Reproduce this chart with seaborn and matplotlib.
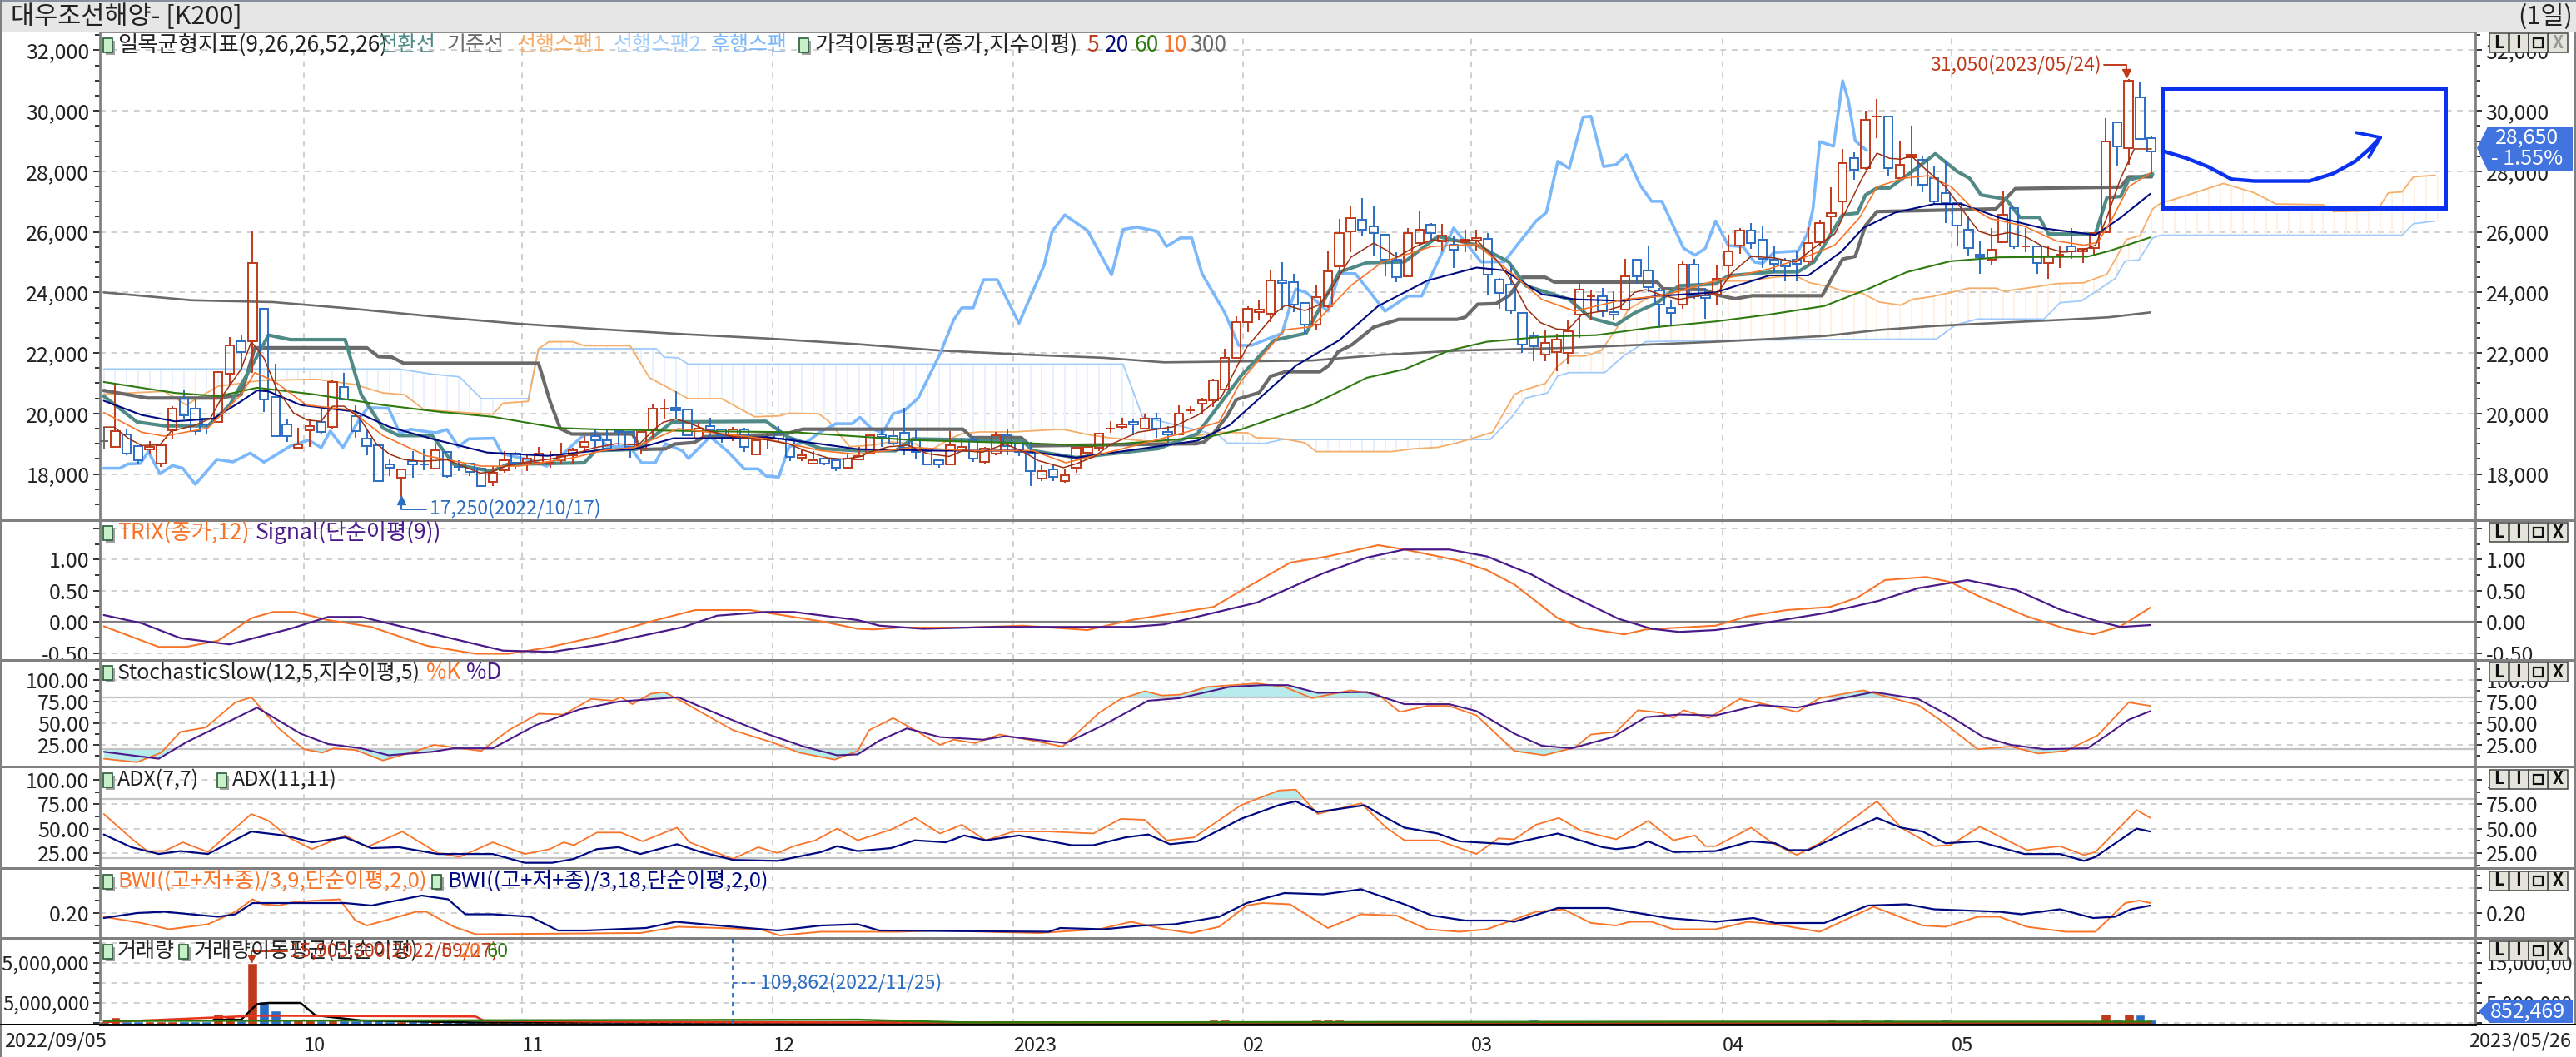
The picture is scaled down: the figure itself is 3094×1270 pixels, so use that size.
import numpy as np
import matplotlib
matplotlib.use('Agg')
import matplotlib.pyplot as plt
from matplotlib.patches import Rectangle, Polygon
from matplotlib.ticker import MultipleLocator, FuncFormatter
import seaborn as sns

sns.set_style('white')
plt.rcParams['font.family'] = ['Liberation Sans Narrow', 'Noto Sans CJK KR', 'DejaVu Sans']
plt.rcParams['axes.unicode_minus'] = False

W, H = 3094, 1270

# ---- candles (body top, body bottom, high, low, R/B)
body_top = [19080,19410,19300,18920,18890,18960,20170,20480,20170,19830,
            21370,22240,22400,24970,23450,20550,19630,18980,19570,19720,
            21050,20870,19900,19170,18960,18310,18150,18420,18310,18790,
            18740,18230,18350,18170,18050,18460,18670,18510,18670,18370,
            18580,18790,19070,19240,19110,19420,19400,19400,20170,20170,
            20190,20120,19500,19570,19480,19460,19480,19110,19160,19330,
            19160,18630,18460,18520,18460,18510,18580,19290,19310,19240,
            19350,19120,18750,18460,18950,18890,19120,18830,19290,19290,
            19000,18700,18110,18140,17960,18860,18890,19330,19490,19630,
            19710,19830,19830,19400,19990,20100,20430,21090,21840,23030,
            23470,23440,24390,24400,24330,23640,23850,24700,25970,26450,
            26400,26180,25900,25080,25970,26080,26240,25880,25590,25730,
            25790,25780,24410,24250,23320,22560,22330,22450,22720,24090,
            23860,23860,23340,24530,25070,24730,24070,23480,24910,24910,
            23900,24460,25350,26050,26050,25730,25070,25050,25070,25640,
            26300,26630,28280,28450,29700,29820,29820,28230,28550,28390,
            27770,27290,26940,26070,25250,25400,26560,26780,25520,25520,
            25180,25240,25510,25440,25950,28990,29610,30990,30440,29100]
body_bot = [19080,18900,18680,18460,18810,18350,19450,19940,19410,19630,
            19720,21310,22020,22400,20450,19240,19240,18860,19450,19390,
            19550,20450,19410,18920,17760,18210,17870,18320,18310,18170,
            17940,18230,18060,17610,17730,18120,18370,18350,18370,18370,
            18460,18610,18890,19110,18830,19380,18890,18830,19440,20170,
            20110,19270,19180,19440,19290,19290,18900,18660,19160,19160,
            18560,18550,18340,18340,18220,18220,18490,18680,19230,19000,
            18880,18720,18330,18330,18330,18790,18500,18400,18680,18920,
            18740,18110,17840,17910,17780,18210,18700,18880,19490,19550,
            19630,19490,19490,19300,19320,20100,20330,20440,20800,21830,
            23030,23360,23300,24320,23600,22930,22930,23530,24870,26010,
            26080,25970,25080,24500,24540,25630,25970,25700,25410,25650,
            25710,24580,23980,23410,22280,22220,21950,22040,21990,23270,
            23860,23380,23260,23430,24530,24180,23590,23320,23590,23860,
            23820,23930,24890,25550,25630,25100,24950,24870,24950,25040,
            25650,26520,27010,28060,28120,29820,28120,27770,28470,27560,
            27010,26960,26220,25470,25170,25080,25670,25520,25520,24960,
            24960,25240,25360,25360,25470,26000,28830,28760,29080,28660]
high = [19550,20960,19460,18920,19080,18960,20240,20780,20460,19830,
        21370,22530,22580,26030,23500,21650,19810,19540,19830,20240,
        21100,21330,20280,19460,18960,18480,18150,18750,18810,19010,
        18740,18460,18350,18170,18260,18770,18740,18670,18900,18750,
        19020,18860,19250,19460,19460,19440,19400,19400,20300,20470,
        20750,20120,19690,19850,19480,19550,19530,19110,19360,19570,
        19160,18810,18770,18520,18460,18650,18900,19290,19460,19460,
        20190,19460,18750,18460,19410,19200,19250,18900,19390,19460,
        19000,19070,18300,18300,18170,18900,18980,19360,19760,19850,
        19810,19960,20010,19580,20280,20230,20510,21160,22130,23210,
        23550,23760,24730,25000,24610,23640,24240,25380,26420,26850,
        27120,26850,25900,25340,26130,26690,26300,26260,25880,26080,
        26080,25960,24470,24890,23320,22680,22740,22630,23110,24370,
        24090,24160,24050,25100,25070,25520,24140,23730,25020,25100,
        24140,24930,25920,26120,26300,26190,25520,25140,25370,26160,
        26410,27470,28740,28620,30010,30390,29820,29010,29520,28510,
        28180,28320,26940,26530,25700,26140,27360,26780,26140,25520,
        25520,25520,26130,25470,25980,29750,29610,31050,30940,29180]
low = [18850,18900,18630,18350,18680,18240,19170,19830,19280,19330,
       19720,20920,21460,21330,20050,19240,19050,18860,18900,19330,
       19460,20450,19190,18630,17760,17920,17250,17870,18120,18170,
       17890,18100,17940,17610,17610,18050,18170,18100,18300,18210,
       18350,18320,18720,18860,18770,18950,18550,18640,19200,19820,
       19820,19270,19160,19180,19040,19090,18720,18660,18830,19090,
       18440,18440,18340,18280,18110,18220,18490,18680,18900,18950,
       18610,18500,18280,18210,18330,18720,18390,18330,18610,18610,
       18590,17610,17780,17780,17720,18050,18580,18770,19360,19470,
       19290,19490,19200,19020,19290,19990,19990,20210,20800,21820,
       22700,23080,23030,23400,23350,22630,22760,23490,24610,25340,
       25880,25230,24520,24330,24540,25520,25700,25350,24810,25320,
       25390,23910,23470,23290,21990,21720,21720,21400,21640,22490,
       23090,23180,23090,23410,24290,24000,22830,22900,23470,23800,
       23130,23590,24440,25280,25440,24820,24640,24380,24380,24930,
       25560,25930,26570,27720,28050,29090,27820,27770,27540,27310,
       26900,26280,25560,25210,24620,24900,25670,25450,25330,24620,
       24460,24810,25120,24960,25190,26000,28160,28210,29040,27910]
candle_kind = list(
    'GRBBRRRBBB' 'RRBRBBBRRB' 'RBBBBBRBBR' 'BBBBRRBRRR' 'RRRBBBBRRR'
    'BBRBBRBRRB' 'BRRBBRRRBB' 'BBBBRRBRRB' 'BBRBRRRRRR' 'BRBBRRRRRR'
    'RRRBBBRRRR' 'BBBBRRBRBR' 'RBBBBBRRRR' 'RBBRBBBBRB' 'BRRRBBBBBR'
    'RRRBRRBRRB' 'BBBBBRRBRB' 'RRBRRRBRBB')

# volume, in millions
volume = [.5,1.4,.4,.4,.4,.4,.4,.4,.4,.4, 2.3,1.9,.6,15.0,5.5,3.1,1.0,.8,.8,.7,
          .8,.7,.7,.6,.6,.5,.5,.4,.4,.4, .4,.4,.4,.3,.3,.3,.3,.3,.3,.3,
          .3,.3,.3,.3,.3,.3,.3,.3,.4,.4, .4,.4,.3,.3,.3,.3,.3,.3,.3,.3,
          .3,.3,.3,.3,.3,.3,.3,.3,.3,.3, .9,.3,.3,.3,.3,.3,.3,.3,.3,.3,
          .3,.3,.3,.3,.3,.3,.3,.3,.3,.3, .3,.3,.3,.5,.3,.3,.7,.8,.9,.5,
          .4,.4,.4,.4,.4,.5,.9,.9,.9,.5, .4,.4,.4,.4,.4,.4,.4,.4,.4,.4,
          .3,.3,.3,.4,.5,.9,.4,.3,.3,.4, .3,.3,.3,.3,.3,.3,.3,.3,.3,.3,
          .3,.3,.3,.3,.3,.3,.3,.3,.3,.3, .4,.9,.4,.4,.9,.5,.9,.4,.4,.4,
          .4,.9,.4,.3,.3,.3,.3,.3,.3,.3, .3,.3,.3,.3,.4,2.3,.9,2.3,2.0,.85]

# ---- overlays on the price panel, read as (bar, value)
ma300_x = [0,7.7,14.8,21.5,29.2,36.4,43.6,50.7,57.9,65.9,73.1,80.3,87.4,92.7,105.6,111.8,118.5,128.1,140.9,145.6,150.4,155.2,160,164.8,171.5,175.3,178.9]
ma300_y = [24000,23740,23680,23470,23190,22960,22780,22620,22480,22290,22080,21950,21840,21690,21750,21940,22080,22170,22370,22460,22560,22760,22890,22980,23100,23180,23340]
ma60_x = [0,6.2,10,13.4,18.2,24.4,29.2,34,39.7,43.5,53.1,60.3,65.9,70.7,81.2,86.5,96.5,99.4,105.6,110.4,113.7,117.6,120.9,125.7,130.5,135.3,140.9,145.6,150.4,154.2,157.6,161.4,165.7,173.4,175.3,178.9]
ma60_y = [21040,20680,20570,20850,20640,20280,20060,19890,19520,19470,19410,19380,19240,19120,19010,18930,19220,19470,20280,21180,21460,22080,22370,22530,22590,22840,23040,23270,23550,24110,24670,25030,25160,25180,25370,25820]
ma20_x = [0,3.3,6.2,9.6,12,13.4,14.4,17.2,22,25,28.7,33.5,38.8,43,46.4,49.8,53.1,57.9,62.7,65.9,73.1,80.3,85,90.8,95.6,98.4,104.2,108,111.4,115.7,120,122.4,125.7,128.6,132.9,135.8,140.9,145.6,149,151.9,153.8,156.6,160,162.4,165.7,169.5,174.1,176.3,178.9]
ma20_y = [20420,19950,19740,19830,20400,20760,20730,20280,20060,19550,19160,18710,18600,18770,18820,19180,19180,19220,18990,18820,18770,18770,18540,18840,19100,19610,21580,22420,23550,24390,24820,24730,23940,23770,23720,23880,24000,24560,24560,25350,26130,26640,26920,26920,26470,26120,25900,26470,27260]
ma10_x = [0,3.3,5.3,9.1,12,13.2,14.9,17.7,21.5,24.4,28.2,33,36.3,41.1,43.5,46.4,50.2,57.9,62.7,65.9,70.7,75.5,81.2,84.1,88.9,94.6,97.5,99.4,103.2,105.6,109,111.8,116.1,120,123.3,125.7,128.6,132.9,136.2,140.9,145.6,148.9,151.3,153.5,155,157.3,159.5,161.5,163.4,164.9,167.8,170.7,173.1,174.3,175.5,177,178.9]
ma10_y = [20030,19380,19250,19520,20620,21350,21070,20280,20120,19270,18600,18260,18260,18540,18770,18880,19500,19160,18770,18650,18880,18770,18770,18370,18820,19380,19720,21070,22760,22870,24220,25010,25520,25590,24560,23770,23380,23770,23880,24390,24780,25190,25560,26480,27490,27770,27860,27490,26760,26440,26200,25700,25560,25650,26390,27490,27950]
ma5_x = [0,.9,2.1,3.3,4.9,5.9,7.9,9.3,10.5,12,12.9,14,15.1,16.6,17.8,19,20,21,22.4,23.8,25,26.2,27.8,30,32.9,33.9,35.1,37,39,40.9,42.8,44.8,46.7,48.2,48.9,50,51.1,53,55,57.9,59.9,61.3,63.3,64.7,66.2,66.9,68.6,70.3,72,73.9,75.1,76.8,78.8,80.2,81.7,83.9,85.1,86.6,88,90.4,93.5,95.7,97.7,99.9,102.5,103.3,105,106.2,107.4,109,111,112.2,113,114.7,116.1,118,120,121.7,123.1,124.4,125.6,127,128,129.2,131.4,132.6,133.8,134.8,136.2,137.7,139.9,141.1,142.3,144,146,147.9,149.8,151.3,152.5,153.7,155,156.1,157.1,158,159.3,161,162.4,163.9,165.1,166.6,168,169.5,171.2,172.9,174.1,175.1,176.3,177.5,179]
ma5_y = [19550,19550,19190,18940,18960,19420,19600,19830,20650,21460,22370,21830,20830,20010,19780,19740,20240,20240,19830,19010,18650,18480,18420,18470,18030,18070,18260,18400,18490,18630,18860,19000,18950,19500,19710,19820,19690,19410,19230,19130,18990,18770,18530,18490,18580,18720,18900,18950,18670,18580,18770,18720,18990,18770,18440,18210,18350,18580,18970,19380,19560,19960,20550,22180,23350,23580,23400,23580,24160,25160,25630,25380,25160,25520,25740,25690,25730,25100,24370,23450,23000,22790,22770,23270,23410,23540,24000,24090,23910,23770,23910,24000,24640,25190,25140,25000,25560,25930,26850,27770,28600,28430,28400,28510,28050,27490,26760,26020,25880,25980,25840,25520,25330,25380,25560,26480,27770,28740,28740]
tenkan_x = [0,2.9,5.3,9.1,11,12.7,14.4,16.3,21.1,22.5,24.4,25.8,28.7,30.6,33.9,35.3,42,43,46.6,49.7,57.9,59.8,62.7,65.9,69.2,70.7,80.3,81.2,85,92.2,95.6,98.4,99.4,102.3,105.1,108,110.4,113.7,116.6,120,122.8,124.3,128.1,130,132.2,133.8,135.8,137.7,140.9,142,146,148.1,149.5,152,153.3,154,155,156.1,158.6,160.1,162,163.1,164.1,166.3,167.5,169.2,170,174.1,175.1,176.3,177,179.1]
tenkan_y = [20570,19720,19590,19590,20280,21410,22590,22440,22440,20620,19520,19270,19270,18320,18090,18320,18370,18770,18820,19720,19740,19220,18840,18770,18770,19160,19100,18770,18540,18840,19330,20730,21240,22420,22650,24670,24980,25010,25850,25570,25010,24220,23770,23150,22930,23320,23660,24220,24280,24550,24680,24680,25010,26570,26620,27220,27450,27450,28140,28580,28000,27770,27220,27080,26480,26480,25930,25930,27130,27170,27720,27910]
kijun_x = [0,3.8,10,12,13.2,23,24,25.2,26.2,38,39,39.9,40.9,46.2,47,49.1,49.9,51.6,52.5,59.6,61.1,75.1,75.9,80.2,81,95.5,96.2,96.9,98.2,99,101,102,103.3,106.3,107.1,107.9,109.1,111,113.2,118.3,119,120.1,121.7,122.9,124,126,126.8,135.8,136.3,139.9,141.1,142.6,144.1,150.2,151.3,152,153.1,154,155,165.4,167.1,176.3,177,179]
kijun_y = [20760,20510,20510,20620,22170,22170,21880,21860,21660,21660,20400,19500,19320,19320,18810,18830,18990,19040,19230,19320,19480,19480,19200,19200,18930,19000,19060,19290,19920,20460,20690,21230,21380,21380,21590,22040,22270,22850,23110,23110,23180,23610,23630,23910,24500,24500,24340,24340,24120,24090,23910,23790,23890,23890,24640,25100,25190,26210,26670,26760,27430,27480,27820,27820]
span1_x = [0,5.3,7.2,10,13.8,18.6,21.9,24.4,26.3,28,34,34.9,37.1,38,38.9,41,42,46,47.7,51.1,54,56.9,59.1,59.9,62.5,63.4,65.2,67.1,68.8,71,72,73.4,74.4,75.1,76.6,79.5,83.3,83.9,86.2,88,90.8,92.7,97.2,100,100.7,102.5,103.3,105,106,112.6,114.4,116.6,118.3,119.5,121.4,123.3,124,126,127,128.2,129.5,130.9,132.4,133.3,135,137,139.9,141.1,143.5,146,147.9,149.1,151,152,153.7,155.2,157.1,158.1,159.8,161.5,163,165.4,166.1,168.8,170.7,173.1,175.1,176.8,178,179.1,180,180.6,183.9,185.3,188,189.9,194,194.9,198.7,199.7,200.9,201.9,203.8]
span1_y = [20640,20730,20280,20900,21090,21130,20960,20680,20620,20120,19970,20340,20400,22140,22370,22370,22240,22240,21180,20490,20490,19890,19920,20010,19990,19730,18900,18950,19060,18990,18720,19040,19230,19340,19390,19390,19470,19470,19290,19190,19100,19050,19380,19360,19200,19180,19150,19030,18740,18740,18830,18880,19030,19160,19380,20620,20760,20990,21530,21900,21900,22080,22900,23450,23820,24000,24230,24370,24380,24500,24550,24320,24180,24040,23980,23680,23580,23770,23860,24000,24140,24140,24040,24180,24290,24320,24600,25750,25880,26760,27000,27030,27430,27600,27290,26920,26900,26670,26700,27290,27320,27820,27870]
span2_x = [0,25.8,28.7,31.1,33,37.1,38,48.3,49,50.2,51.1,89.1,90.8,97.5,98.2,101.5,103,121.2,123.1,124.3,126.2,127.1,128.1,131.2,132.9,134.8,140.9,160.2,161.9,163.8,169.6,171,172.9,175.8,176.7,177.9,179.1,179.8,200.9,201.9,203.8]
span2_y = [21470,21470,21300,21210,20490,20490,22140,22140,21860,21840,21630,21630,19890,19270,19020,19010,19140,19140,19890,20510,20680,21240,21350,21350,21920,22370,22420,22460,22930,23120,23120,23660,23720,24450,25040,25070,25800,25890,25890,26270,26360]
chikou_x = [0,1.4,2.1,3.2,3.9,4.9,6,6.9,8,9.9,11.3,12.8,14,16.3,17.9,19,19.8,20.9,22.5,23.1,24.9,25.9,26.8,28,29,30,31,31.9,34.1,34.8,37.5,38.7,39.9,41.9,43.1,44,46,47,48.2,49.1,50.6,51.1,53,54.5,56,57.2,57.9,59,59.9,61.6,62.5,64,65.4,66.1,67.1,68.1,69,70,71.2,73.1,74.3,75,76,76.9,78.1,80,82.2,82.9,84,86,88.1,89.1,90.3,92.1,92.9,94.1,95.1,96,98,99.2,100.3,103,103.7,104.2,105.1,107,108,109.4,112,114,115.2,118,120.4,122.4,125.2,126.1,127.1,128.1,129.3,130,131.1,132.2,133.1,134.3,135.3,136.2,138.1,139.1,140,140.9,142,143.3,144.3,145,146,148.1,148.9,149.4,150,151.2,152,152.5,153.1,154.1]
chikou_y = [18190,18190,18330,18350,18740,18010,18280,18190,17660,18480,18400,18690,18390,18920,19120,18870,19420,18870,19920,20190,20170,19330,19480,19410,19360,19470,18900,19160,19180,18670,18440,18260,18580,19270,19360,18900,18900,18370,18370,19000,18760,18510,19230,18760,18170,18170,17930,17900,18900,19090,19360,19660,19660,19870,19500,19360,19990,20100,20510,21970,23100,23490,23490,24420,24420,22980,24900,26020,26560,26040,24580,26080,26160,26020,25520,25800,25800,24620,23320,22250,22250,22650,23550,24110,24000,23380,24620,24620,23380,23880,23880,26130,25010,25010,26360,26640,28330,28100,29790,29820,28160,28220,28550,27540,27010,27010,25460,25230,25460,26360,25550,25510,25000,24960,25320,25370,25930,26740,28980,28830,30990,30350,29010,28690]

# ---- lower panels
trix_x = [0,4.8,7.2,10,12.9,14.8,16.7,19.6,23.4,28.2,32.5,35.4,38.8,43.5,48.3,51.7,56.5,62.7,65.9,67.3,69.5,75.5,80.3,86,89.8,94.6,97,99.6,103.7,107,111.4,113.7,118.5,120.9,123.3,127.1,129.1,132.9,134.8,140.9,143.7,147.1,150.9,153.3,155.7,159.3,161.4,163.8,168.1,171.5,173.9,176.3,178.9]
trix_y = [-.07,-.40,-.40,-.30,.06,.16,.16,.03,-.08,-.38,-.51,-.51,-.41,-.22,.03,.19,.19,.01,-.11,-.12,-.09,-.09,-.06,-.13,.03,.17,.24,.52,.95,1.05,1.23,1.16,.98,.83,.60,.06,-.09,-.20,-.12,-.06,.09,.19,.24,.39,.67,.72,.64,.42,.09,-.11,-.20,-.07,.23]
signal_x = [0,3.3,6.7,11,16.3,19.6,22.5,28.7,34.9,39.2,43.5,50.7,53.6,57.9,60.3,65.9,67.8,71.6,77.9,89.8,92.7,94.6,100.8,106.6,110.4,113.7,117.6,120.9,124.8,127.6,132.4,135.3,137.7,140.9,144.7,150.4,155.2,158.6,162.9,167.2,171,174.3,176.3,178.9]
signal_y = [.11,-.02,-.26,-.36,-.11,.08,.08,-.19,-.46,-.48,-.36,-.08,.10,.16,.16,.03,-.06,-.11,-.08,-.08,-.04,.04,.31,.78,1.03,1.16,1.16,1.05,.76,.48,.05,-.11,-.16,-.13,-.03,.14,.34,.54,.67,.51,.20,.01,-.08,-.05]
stoch_k_x = [0,2.9,5,6.7,8.9,11.5,12.9,15.3,17.5,19.1,20.1,22,24.4,27.3,28.9,33,35.4,38,40.2,42.6,44.5,45.2,46.2,47.8,49,50.7,55,58.4,60.8,63.9,65.9,66.9,69,70.9,73.1,74.3,76.2,78.3,81.2,83.8,87,88.9,91,92.5,94.1,96.5,100.8,103.2,105.6,109,111.4,113.3,115.7,117.6,120,123.3,125.9,128.6,130,132.2,134.1,136.2,137.2,138.1,140.3,143,145.2,148,150,153.8,156.6,158.6,160.5,163.8,166.7,169.1,171.5,174.3,177,178.9]
stoch_k_y = [9,5,16,40,45,74,80,44,20,16,21,19,7,18,25,18,42,61,60,78,76,80,72,84,86,74,42,28,16,8,18,42,56,42,25,31,27,37,30,23,62,78,87,82,83,92,96,92,79,88,83,63,70,70,59,18,13,22,37,40,65,62,56,65,56,78,72,63,79,88,78,71,54,20,23,15,18,36,74,70]
stoch_d_x = [0,4.8,7.2,10,13.4,17.2,19.6,22.5,24.9,28.7,30.6,34,37.8,41.6,45,50.2,54.5,57.9,61.2,64.1,65.9,67.8,70.2,73.1,76.9,78.8,84.1,87.4,91.3,94.1,98.4,101.3,103.5,106.1,110.4,113.7,117.6,120,123.3,125.7,128.3,131.9,134.8,137.7,140.9,144.7,148,150.9,154.7,158.6,161.4,164.3,166.7,169.6,173.4,175.3,177,178.9]
stoch_d_y = [17,9,28,46,68,38,26,21,13,17,21,21,48,66,75,80,56,38,23,13,14,30,44,34,31,35,27,48,76,79,92,94,94,85,86,72,72,64,38,24,21,34,57,60,59,71,68,76,86,78,58,34,25,20,21,38,54,64]
adx7_x = [0,2.4,3.8,5.3,6.9,9.1,12.9,14.4,16.3,18.2,21.1,23,26.1,29.2,31.1,34,36.8,39,40.2,41.1,43.1,45.2,47.1,50.1,51.2,55,57.2,58.9,60.3,62.2,64.1,65.9,68.8,70.9,73.1,75,77.1,79.5,82.6,86.5,88.9,91,92.9,95.3,99.4,102.7,104.2,106.1,109.9,112.1,113.7,116.6,120,121.9,123.3,125.2,127.2,129.1,132.2,135,137.2,139.1,140,140.9,144,145.9,148,150,155,157.1,160,161.4,164,168.1,171,173.1,174.1,177.7,178.9]
adx7_y = [65,40,27,27,36,26,65,58,40,29,43,31,47,25,21,36,24,29,36,33,46,46,37,51,36,19,31,25,32,38,50,38,49,61,45,54,38,47,47,45,60,59,38,41,74,89,90,65,76,51,38,38,24,40,39,54,61,48,39,58,38,43,32,32,51,35,23,35,78,51,32,33,52,28,32,23,26,69,61]
adx11_x = [0,2.4,4.8,6.7,9.1,12.9,15.8,18.2,21.1,23.4,25.8,29.2,34,36.8,39.2,41.1,43.1,45,46.9,50.1,52.2,55,58.9,62.7,64.1,65.9,68.8,70.9,73.6,75.2,77.1,80,84.6,86.5,89.3,91.3,93.2,95.6,99.4,102.7,104.2,106.1,110.2,111.8,113.7,116.6,118.5,122.8,127.1,131,132.2,133.8,135,137.2,140.9,144,146.1,147.3,149,155,157.1,159,161,163.8,167.9,171,173.1,174.1,177.7,178.9]
adx11_y = [44,31,24,27,24,47,43,36,41,30,31,24,24,15,15,19,29,31,24,34,26,18,17,26,32,27,30,38,36,43,38,43,33,33,41,44,34,37,60,74,78,67,74,63,51,45,37,34,45,31,29,31,37,26,27,37,35,28,28,61,51,47,35,37,24,24,17,21,50,47]
bwi9_x = [0,3.3,5.7,9.1,11.5,13,13.9,15.3,16.7,20.6,22,23,27.3,28.2,30.6,32.5,46.9,50.2,57.4,59.1,62.7,65.9,69.5,72.6,81.7,87,89.8,92.7,95.1,97.5,99.9,101.3,103.7,107,109.9,113,115.7,118.5,120.9,125.2,127.6,130,132.2,133.4,135.3,137.2,140.9,143.7,146.1,150,154.7,159,161,163.8,165.7,168.1,171.5,174.1,176.7,177.9,178.9]
bwi9_y = [.17,.12,.07,.11,.21,.31,.27,.26,.29,.31,.14,.10,.21,.21,.09,.03,.04,.09,.07,.02,.05,.05,.05,.06,.04,.07,.13,.07,.04,.09,.26,.28,.27,.08,.19,.18,.07,.05,.07,.21,.23,.12,.10,.13,.13,.07,.07,.13,.11,.05,.25,.10,.09,.17,.17,.09,.05,.05,.28,.30,.28]
bwi18_x = [0,2.9,5.3,10,11.5,13,21.1,23.4,27.8,30.1,31.6,34,37.3,39.7,42.1,47.4,50,55,58.9,62.7,65.9,67.8,82.6,83.6,87.4,90.8,93.6,97.5,99.9,103.2,106.6,109.9,113.7,116.1,119,122.4,123.3,127.1,131.5,136.7,140.9,144.2,146.1,150.4,154.2,157.6,160,165.7,167.6,171,173.9,175.8,177.2,178.9]
bwi18_y = [.16,.20,.21,.17,.19,.28,.28,.26,.34,.31,.19,.19,.17,.06,.06,.08,.13,.09,.06,.10,.11,.06,.05,.08,.07,.10,.11,.17,.28,.36,.35,.39,.27,.18,.14,.14,.13,.24,.24,.16,.13,.16,.12,.12,.26,.27,.23,.21,.19,.23,.16,.17,.23,.26]
vol_ma_black_x = [9.6,12,13.4,14.4,17.2,18.5,22.5,32.5,178.9]
vol_ma_black_y = [.8,.8,4.7,5,5,1.9,.6,.1,.1]
vol_ma_red_x = [0,13.4,32.5,33.2,43.5,65.9,179]
vol_ma_red_y = [.2,1.8,1.6,.6,.3,.1,.1]
vol_ma_green_x = [0,65.9,75.5,140,179]
vol_ma_green_y = [.5,.8,.1,.3,.3]

# drawn arrow and box on the right side of the price panel
hand_x = [180.1,182,183.9,186,188,192.8,194.9,196.8,198,199]
hand_y = [28660,28440,28160,27740,27680,27680,27930,28330,28720,29120]
arrow_x = [196.9,199,198]
arrow_y = [29280,29120,28470]
box_x = [179.9,204.7]
box_y = [26790,30750]

months = [17.5,36.55,58.5,79.5,99.6,119.5,141.5,161.5]
month_labels = ['10','11','12','2023','02','03','04','05']
weeks = [3.5,7.4,12.6,21.5,25.5,30.6,40.4,45.5,50.5,55.5,60.6,65.9,70.4,75.6,89.5,94.5,97.6,102.5,107.6,112.5,117.7,121.5,126.6,131.6,136.6,146.5,151.5,156.6,164.5,169.5,174.5]

RED, BLUE = '#c0391b', '#2b6cc4'
ORANGE, NAVY = '#f97428', '#000a80'
GREEN, PURPLE = '#2f7a10', '#4a1a8a'
TEAL, GRAY = '#4f8a86', '#6a6a6a'
SPAN1, SPAN2 = '#f5ad68', '#9fcbfb'
CHIKOU, BROWN = '#7ab8fb', '#9c2f12'
PANEL_LINE = '#808080'
XLIM = (-0.34, 207.3)

fig = plt.figure(figsize=(W / 100, H / 100), dpi=100, facecolor='white')


def panel(top, bottom, ylim, major, minor, fmt, tick_size=18):
    ax = fig.add_axes([120 / W, 1 - bottom / H, (2973 - 120) / W, (bottom - top) / H])
    ax.set_xlim(*XLIM)
    ax.set_ylim(*ylim)
    ax.set_xticks(months)
    ax.tick_params(axis='x', which='both', length=0, labelbottom=False)
    ax.yaxis.set_major_locator(MultipleLocator(major))
    ax.yaxis.set_minor_locator(MultipleLocator(minor))
    ax.yaxis.set_major_formatter(FuncFormatter(fmt))
    ax.tick_params(axis='y', which='major', left=True, right=True, labelleft=True, labelright=True,
                   length=6, width=1.4, color='#333333', labelsize=tick_size, labelcolor='#222222', pad=3)
    ax.tick_params(axis='y', which='minor', left=True, right=True, length=4, width=1.4, color='#333333')
    ax.grid(True, axis='both', which='major', color='#cfcfcf', linestyle=(0, (3.5, 3.5)), linewidth=1.4)
    ax.set_axisbelow(True)
    for side, sp in ax.spines.items():
        sp.set_color(PANEL_LINE)
        sp.set_linewidth(2)
    return ax


def line(ax, xs, ys, color, lw, z=4):
    sns.lineplot(x=xs, y=ys, ax=ax, color=color, linewidth=lw, estimator=None, sort=False,
                 legend=False, zorder=z)
    ax.set_xlabel('')
    ax.set_ylabel('')


def fmt_between(lo, hi):
    return lambda v, _: f'{v:.2f}' if lo <= v <= hi else ''


ax_price = panel(38, 625, (16474, 32617), 2000, 500, lambda v, _: f'{v:,.0f}')
ax_trix = panel(625, 793, (-0.61, 1.63), 0.5, 0.25, fmt_between(-0.5, 1.0))
ax_stoch = panel(793, 921, (0, 123), 25, 12.5, fmt_between(25, 100))
ax_adx = panel(921, 1043, (9.6, 113.6), 25, 12.5, fmt_between(25, 100))
ax_bwi = panel(1043, 1127, (0, 0.56), 0.2, 0.1, fmt_between(0.2, 0.4))
ax_vol = panel(1127, 1231, (-0.42, 21.25), 5, 2.5,
               lambda v, _: f'{v * 1e6:,.0f}' if v in (5, 15) else '', tick_size=17)

# ---- price panel
bars = np.arange(len(body_top))
colors = [{'R': RED, 'B': BLUE, 'G': GRAY}[k] for k in candle_kind]
top_arr, bot_arr = np.array(body_top), np.array(body_bot)

all_bars = np.arange(0, 205)
s1 = np.interp(all_bars, span1_x, span1_y)
s2 = np.interp(all_bars, span2_x, span2_y)
ax_price.vlines(all_bars[s2 >= s1], s1[s2 >= s1], s2[s2 >= s1], color='#e8f2fd', lw=1.4, zorder=1)
ax_price.vlines(all_bars[s1 > s2], s2[s1 > s2], s1[s1 > s2], color='#fdf1e4', lw=1.4, zorder=1)

line(ax_price, span2_x, span2_y, SPAN2, 1.3, 2)
line(ax_price, span1_x, span1_y, SPAN1, 1.3, 2)
line(ax_price, ma300_x, ma300_y, GRAY, 1.9, 2)
line(ax_price, chikou_x, chikou_y, CHIKOU, 2.6, 2.5)
line(ax_price, kijun_x, kijun_y, GRAY, 3.0, 3)
line(ax_price, tenkan_x, tenkan_y, TEAL, 3.0, 3)

ax_price.vlines(bars, top_arr, high, color=colors, lw=1.4, zorder=3.2)
ax_price.vlines(bars, low, bot_arr, color=colors, lw=1.4, zorder=3.2)
ax_price.bar(bars, top_arr - bot_arr, bottom=bot_arr, width=0.76, facecolor='none',
             edgecolor=colors, linewidth=1.4, zorder=3.2)

line(ax_price, ma60_x, ma60_y, GREEN, 1.5)
line(ax_price, ma20_x, ma20_y, NAVY, 1.5)
line(ax_price, ma10_x, ma10_y, ORANGE, 1.2)
line(ax_price, ma5_x, ma5_y, BROWN, 1.1)

ax_price.add_patch(Rectangle((box_x[0], box_y[0]), box_x[1] - box_x[0], box_y[1] - box_y[0],
                             fill=False, edgecolor='#0a32f0', linewidth=3.6, zorder=6))
line(ax_price, hand_x, hand_y, '#0a32f0', 3.2, 6)
line(ax_price, arrow_x, arrow_y, '#0a32f0', 2.8, 6)

# ---- TRIX
ax_trix.axhline(0, color=PANEL_LINE, lw=1.6, zorder=2)
line(ax_trix, trix_x, trix_y, ORANGE, 1.5)
line(ax_trix, signal_x, signal_y, PURPLE, 1.6, 5)

# ---- stochastic slow
fine = np.arange(0, 179, 0.1)
k_f, d_f = np.interp(fine, stoch_k_x, stoch_k_y), np.interp(fine, stoch_d_x, stoch_d_y)
ax_stoch.fill_between(fine, 80, np.maximum(np.maximum(k_f, d_f), 80), color='#b8ecec', lw=0, zorder=2)
ax_stoch.fill_between(fine, 20, np.minimum(np.minimum(k_f, d_f), 20), color='#b8ecec', lw=0, zorder=2)
ax_stoch.axhline(80, color='#c4c4c4', lw=1.6, zorder=2.5)
ax_stoch.axhline(20, color='#c4c4c4', lw=1.6, zorder=2.5)
line(ax_stoch, stoch_k_x, stoch_k_y, ORANGE, 1.3)
line(ax_stoch, stoch_d_x, stoch_d_y, PURPLE, 1.5, 5)

# ---- ADX
a_f = np.interp(fine, adx7_x, adx7_y)
ax_adx.fill_between(fine, 80, np.maximum(a_f, 80), color='#b8ecec', lw=0, zorder=2)
ax_adx.axhline(80, color='#c4c4c4', lw=1.6, zorder=2.5)
ax_adx.axhline(20, color='#c4c4c4', lw=1.6, zorder=2.5)
line(ax_adx, adx7_x, adx7_y, ORANGE, 1.3)
line(ax_adx, adx11_x, adx11_y, NAVY, 1.6, 5)

# ---- BWI
line(ax_bwi, bwi9_x, bwi9_y, ORANGE, 1.4)
line(ax_bwi, bwi18_x, bwi18_y, NAVY, 1.6, 5)

# ---- volume
base = ax_vol.get_ylim()[0]
ax_vol.bar(bars, np.array(volume) - base, bottom=base, width=0.85, color=colors, zorder=3)
line(ax_vol, vol_ma_black_x, vol_ma_black_y, 'black', 1.8)
line(ax_vol, vol_ma_red_x, vol_ma_red_y, '#e8341c', 1.8)
line(ax_vol, vol_ma_green_x, vol_ma_green_y, GREEN, 1.8)
ax_vol.spines['bottom'].set_color('black')
ax_vol.set_xticks(weeks, minor=True)
ax_vol.set_xticklabels(month_labels, ha='left')
ax_vol.tick_params(axis='x', which='both', length=8, width=1.4, color='#222222', direction='out')
ax_vol.tick_params(axis='x', which='major', labelbottom=True, labelsize=17, labelcolor='#222222', pad=2)

# ---- window chrome, legends and notes, laid out in screen pixels
top = fig.add_axes([0, 0, 1, 1], zorder=10)
top.set_xlim(0, W)
top.set_ylim(H, 0)
top.axis('off')
top.patch.set_alpha(0)


def label(x, y, s, color='#222222', size=19, ha='left', **kw):
    top.text(x, y, s, color=color, fontsize=size, ha=ha, va='center', **kw)


def rect(x, y, w, h, **kw):
    top.add_patch(Rectangle((x, y), w, h, **kw))


def icon(x, y):
    rect(x + 3, y + 3, 11, 17, facecolor='#a0a0a0', edgecolor='none')
    rect(x, y, 11, 17, facecolor='#c8f0c8', edgecolor='#2a5a3a', linewidth=1.2)


rect(0, 0, W, 38, facecolor='#e6e6e6', edgecolor='none')
rect(0, 0, W, 3, facecolor='#8a8fa0', edgecolor='none')
rect(0, 0, 2, H, facecolor=PANEL_LINE, edgecolor='none')
rect(W - 2, 38, 2, 1193, facecolor=PANEL_LINE, edgecolor='none')
for yy in (625, 793, 921, 1043, 1127):
    rect(0, yy - 1, W, 2.5, facecolor=PANEL_LINE, edgecolor='none')
rect(0, 1230, W, 2, facecolor='black', edgecolor='none')
label(13, 20, '대우조선해양- [K200]', size=22)
label(3090, 20, '(1일)', ha='right', size=22)

# main legend
icon(124, 46)
label(141, 54, '일목균형지표(9,26,26,52,26)')
label(455, 54, '전환선', TEAL, size=18)
label(537, 54, '기준선', GRAY, size=18)
label(621, 54, '선행스팬1', SPAN1, size=18)
label(737, 54, '선행스팬2', SPAN2, size=18)
label(854, 54, '후행스팬', CHIKOU, size=18)
icon(960, 46)
label(979, 54, '가격이동평균(종가,지수이평)')
label(1305, 54, '5', RED)
label(1327, 54, '20', NAVY)
label(1362, 54, '60', GREEN)
label(1397, 54, '10', ORANGE)
label(1429, 54, '300', GRAY)

icon(124, 632)
label(141, 640, 'TRIX(종가,12)', ORANGE)
label(307, 640, 'Signal(단순이평(9))', PURPLE)
icon(124, 800)
label(141, 809, 'StochasticSlow(12,5,지수이평,5)', size=18)
label(512, 809, '%K', ORANGE)
label(560, 809, '%D', PURPLE)
icon(124, 929)
label(141, 937, 'ADX(7,7)', size=18)
icon(261, 929)
label(279, 937, 'ADX(11,11)', size=18)
icon(124, 1051)
label(141, 1059, 'BWI((고+저+종)/3,9,단순이평,2,0)', ORANGE, size=18.5)
icon(519, 1051)
label(537, 1059, 'BWI((고+저+종)/3,18,단순이평,2,0)', NAVY, size=18.5)
icon(124, 1135)
label(141, 1143, '거래량', size=18)
icon(215, 1135)
label(233, 1143, '거래량이동평균(단순이평)', size=18)
label(348, 1143, '15,903,800(2022/09/27)', RED, size=16.5)
label(529, 1143, '5', RED, size=17)
label(551, 1143, '20', ORANGE, size=17)
label(585, 1143, '60', GREEN, size=17)

# high, low and volume notes
label(2318, 78, '31,050(2023/05/24)', RED, size=16.5)
top.plot([2527, 2554, 2554], [78, 78, 88], color=RED, lw=1.4)
top.plot([2554], [88], marker='v', color=RED, ms=7)
label(516, 611, '17,250(2022/10/17)', BLUE, size=16.5)
top.plot([482, 482, 512], [602, 612, 612], color=BLUE, lw=1.4)
top.plot([482], [601], marker='^', color=BLUE, ms=7)
top.plot([880, 880], [1128, 1230], color=BLUE, lw=1.3, ls=(0, (3, 3)))
top.plot([880, 912], [1181, 1181], color=BLUE, lw=1.3, ls=(0, (3, 3)))
label(913, 1181, '109,862(2022/11/25)', BLUE, size=16.5)
top.plot([302, 302, 345], [1155, 1143, 1143], color=RED, lw=1.4)
top.plot([302], [1152], marker='v', color=RED, ms=6)

label(5, 1251, '2022/09/05', size=17)
label(3088, 1251, '2023/05/26', ha='right', size=17)

# price and volume tags
top.add_patch(Polygon([(2975, 178), (2988, 152), (3090, 152), (3090, 205), (2988, 205)],
                      facecolor='#4274e0', edgecolor='none'))
label(3035, 165, '28,650', 'white', ha='center', size=18)
label(3035, 191, '- 1.55%', 'white', ha='center', size=18)
top.add_patch(Polygon([(2977, 1215), (2990, 1202), (3090, 1202), (3090, 1229), (2990, 1229)],
                      facecolor='#4274e0', edgecolor='none'))
label(3036, 1215, '852,469', 'white', ha='center', size=18)

# panel buttons
for yy in (40, 628, 796, 925, 1047, 1131):
    for i, ch in enumerate(['L', 'I', '', 'X']):
        bx = 2990 + i * 23.5
        rect(bx, yy, 23, 23, facecolor='#e4e4dc', edgecolor='#444444', linewidth=1.1)
        if ch:
            col = '#999999' if (ch == 'X' and yy == 40) else '#111111'
            label(bx + 11.5, yy + 11, ch, col, size=15, ha='center', fontweight='bold')
        else:
            rect(bx + 6, yy + 6, 11, 11, facecolor='none', edgecolor='#111111', linewidth=1.6)

fig.savefig('out.png', dpi=100)
